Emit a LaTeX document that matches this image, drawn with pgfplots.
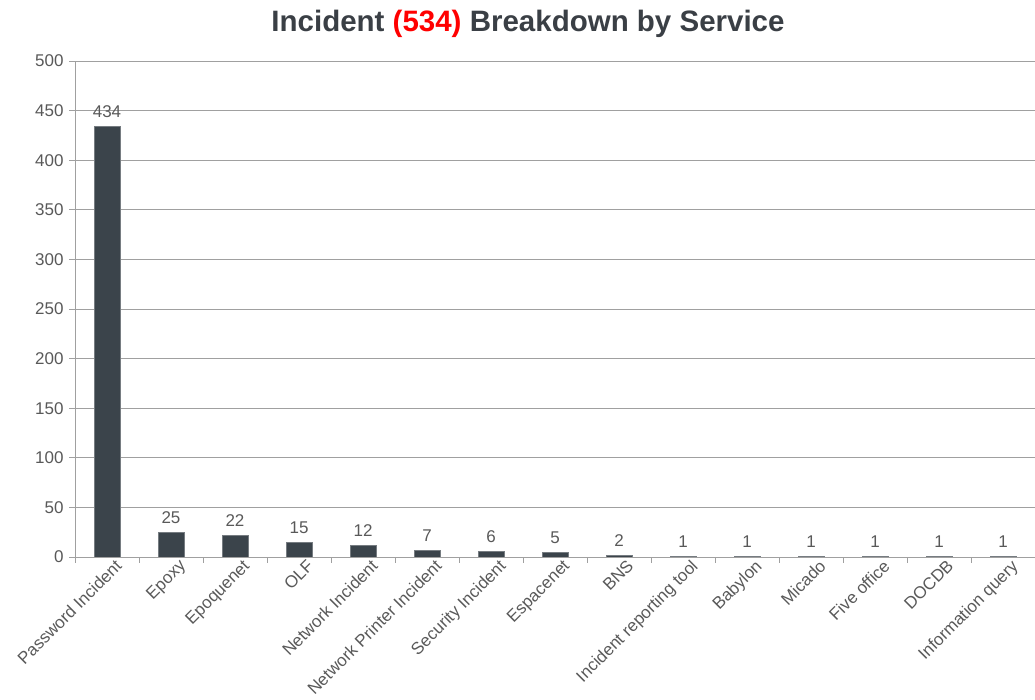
\documentclass[border=0pt]{standalone}
\usepackage{pgfplots}
\pgfplotsset{compat=1.18}
\usepackage{fontspec}
\setmainfont{Liberation Sans}
\definecolor{barc}{HTML}{3B444B}
\definecolor{titlec}{HTML}{3A3F45}
\definecolor{gridc}{HTML}{A0A0A0}
\definecolor{labc}{HTML}{595959}
\begin{document}
\begin{tikzpicture}
\useasboundingbox (0,0) rectangle (1035bp,700bp);
\node[font=\fontsize{29.5bp}{33bp}\selectfont\bfseries, text=titlec] at (528bp,676bp) {Incident \textcolor{red}{(534)} Breakdown by Service};
\begin{axis}[
  at={(75bp,143bp)}, anchor=south west,
  scale only axis, width=960bp, height=496bp,
  xmin=-0.5, xmax=14.5, ymin=0, ymax=500,
  ytick={0,50,...,500},
  xtick={-0.5,0.5,...,14.5},
  xticklabels={},
  extra x ticks={0,...,14},
  extra x tick labels={Password Incident,Epoxy,Epoquenet,OLF,Network Incident,Network Printer Incident,Security Incident,Espacenet,BNS,Incident reporting tool,Babylon,Micado,Five office,DOCDB,Information query},
  extra x tick style={major tick length=0bp, grid=none,
     tick label style={rotate=45, anchor=north east, inner sep=1bp, xshift=5bp, yshift=-5bp}},
  axis x line*=bottom, axis y line*=left,
  axis line style={draw=gridc, line width=0.8bp, -},
  ymajorgrids, grid style={draw=gridc, line width=0.8bp},
  tick style={draw=gridc, line width=0.8bp},
  tick align=outside, major tick length=6bp,
  ticklabel style={font=\fontsize{17bp}{19bp}\selectfont, text=labc},
  /pgf/number format/assume math mode=true,
  y tick label style={xshift=-2bp},
  ybar, bar width=26bp,
  nodes near coords,
  nodes near coords style={font=\fontsize{17bp}{19bp}\selectfont, text=labc, yshift=5bp},
]
\addplot[fill=barc, draw=barc!70!white, line width=0.5bp] coordinates {
(0,434) (1,25) (2,22) (3,15) (4,12) (5,7) (6,6) (7,5) (8,2) (9,1) (10,1) (11,1) (12,1) (13,1) (14,1)
};
\end{axis}
\end{tikzpicture}
\end{document}
